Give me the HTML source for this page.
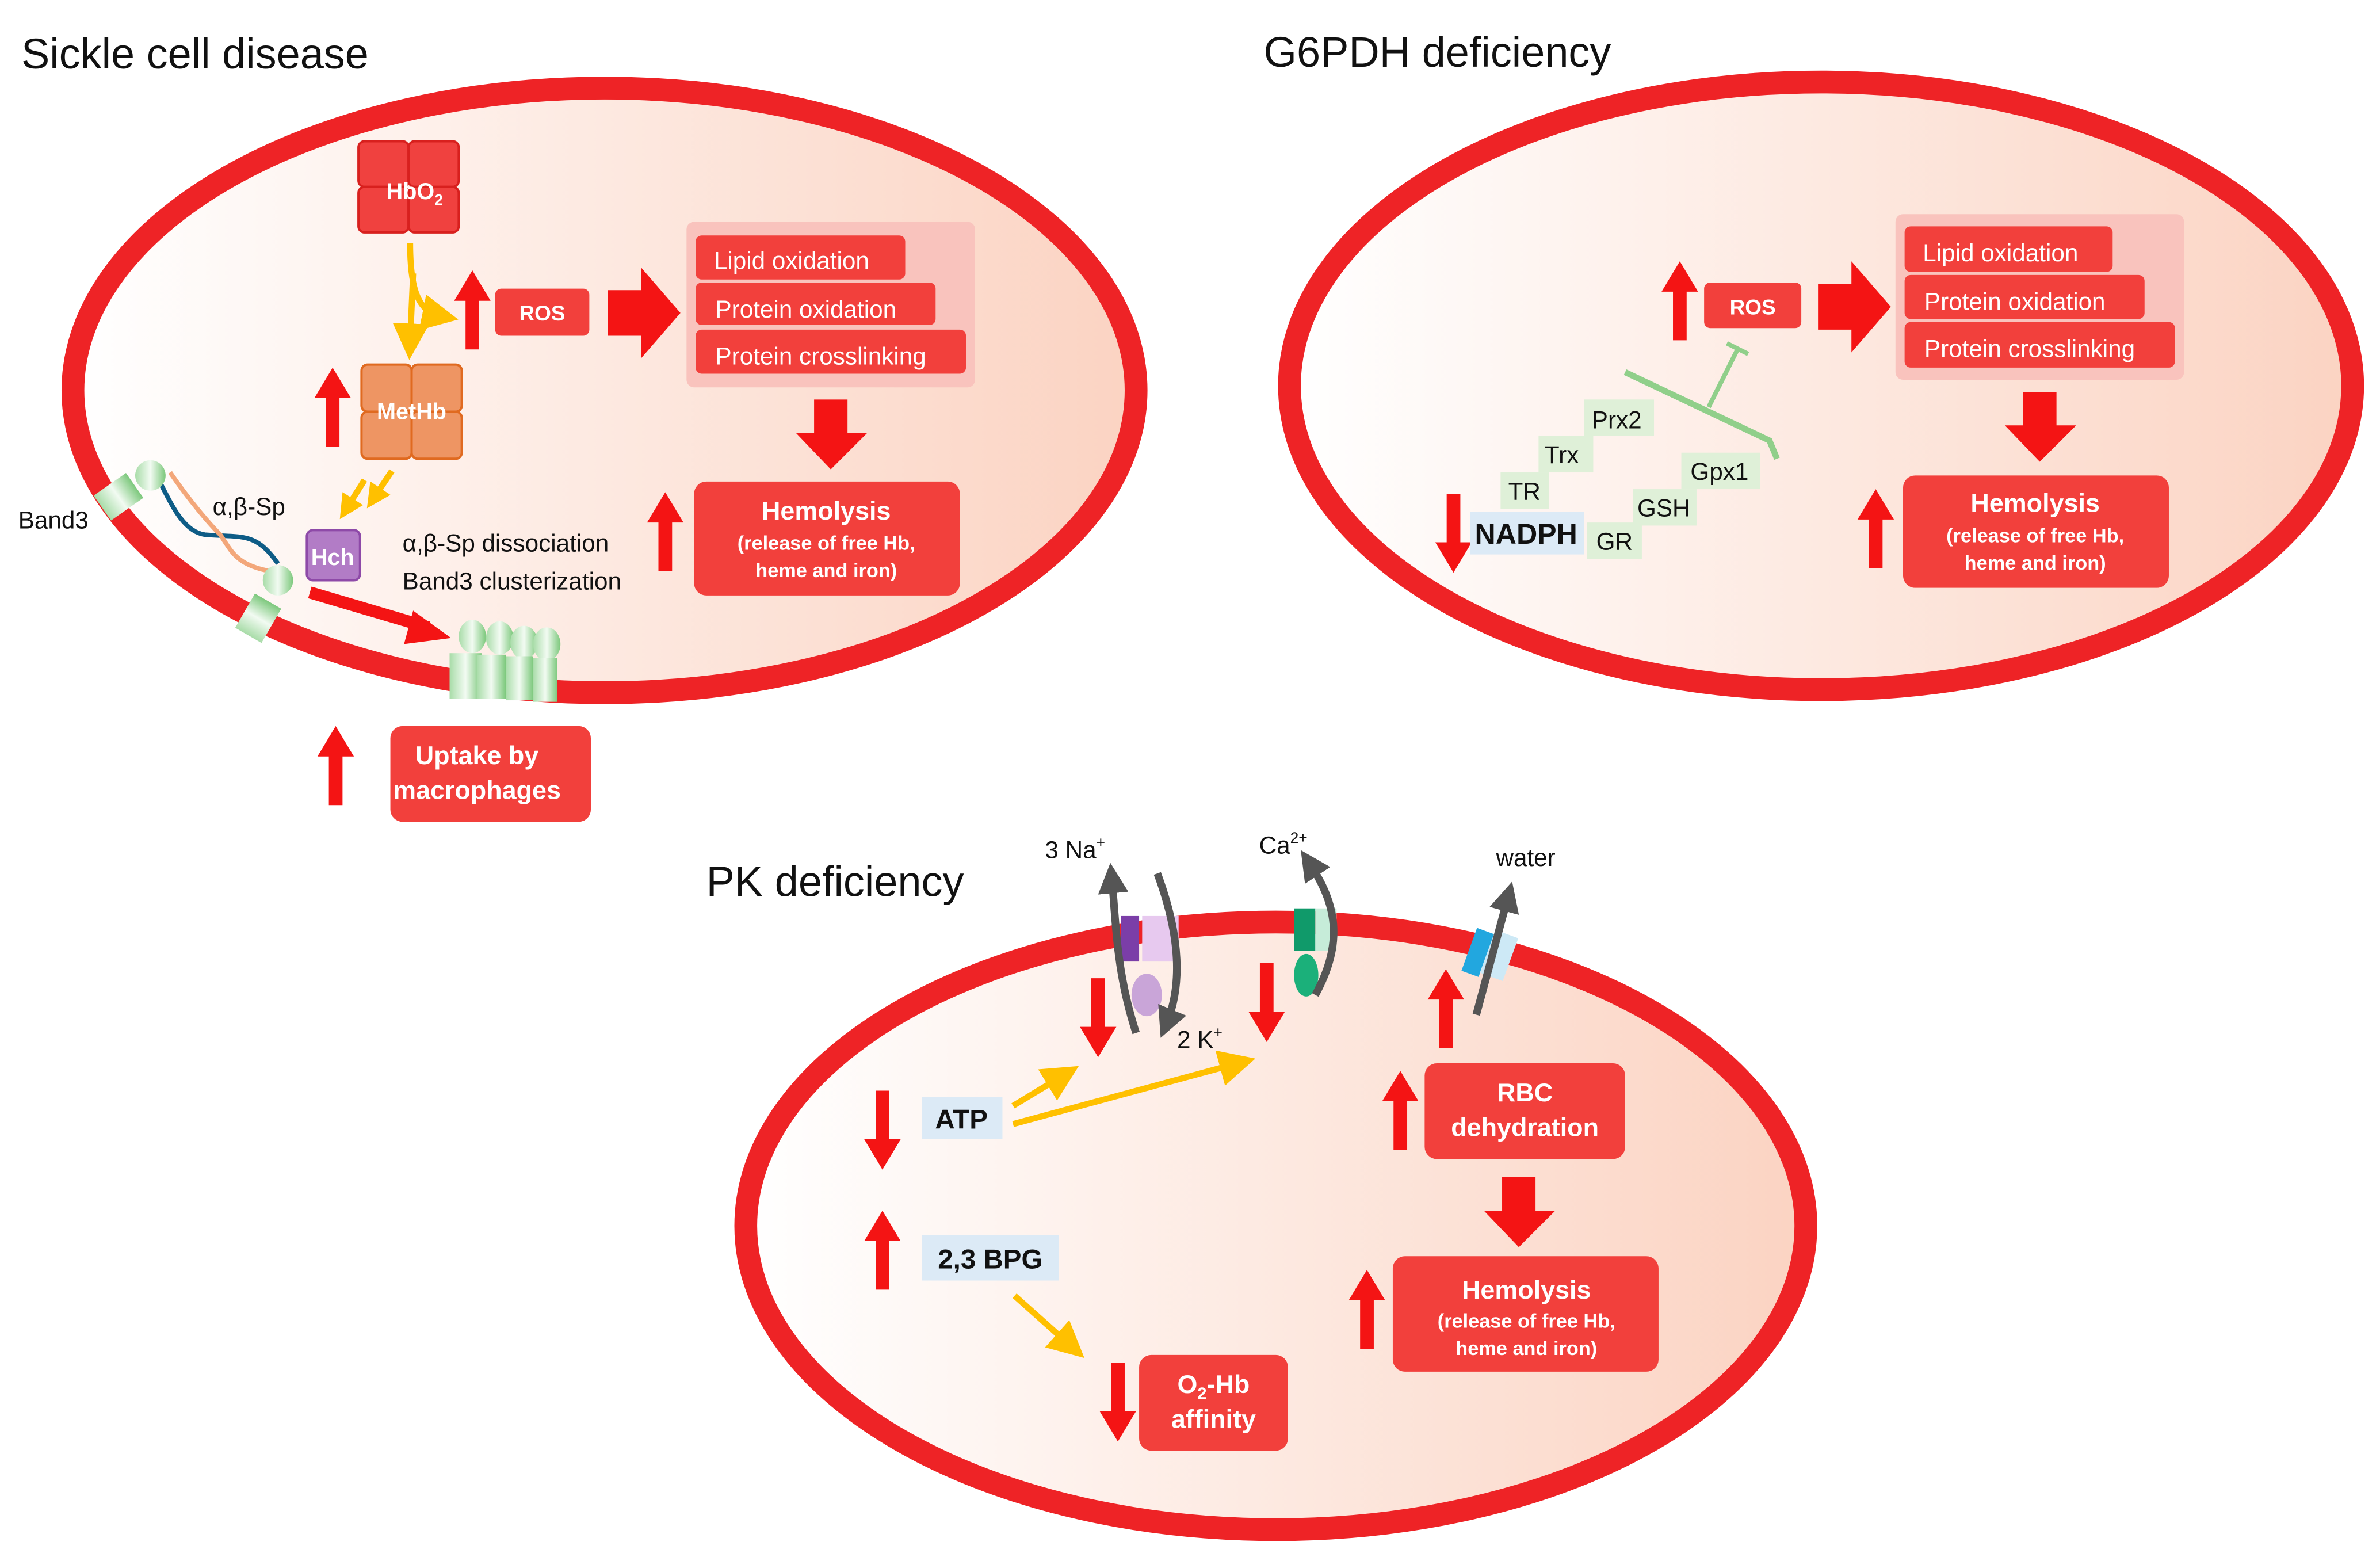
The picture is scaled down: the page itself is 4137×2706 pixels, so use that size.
<!DOCTYPE html>
<html><head><meta charset="utf-8"><style>html,body{margin:0;padding:0;background:#fff}svg{display:block}</style></head>
<body>
<svg width="4137" height="2706" viewBox="0 0 1567 1025" xmlns="http://www.w3.org/2000/svg" font-family="Liberation Sans, sans-serif">
<defs>
<linearGradient id="cell" x1="0" x2="1" y1="0" y2="0"><stop offset="0" stop-color="#ffffff"/><stop offset="1" stop-color="#fbd3c2"/></linearGradient>
<linearGradient id="grn" x1="0" x2="1"><stop offset="0" stop-color="#a8dca8"/><stop offset="0.5" stop-color="#f2fbf2"/><stop offset="1" stop-color="#7cc87c"/></linearGradient>
<path id="up" d="M0,0 L12,20 L4.5,20 L4.5,52 L-4.5,52 L-4.5,20 L-12,20 Z" fill="#f41414"/>
<path id="dn" d="M0,52 L12,32 L4.5,32 L4.5,0 L-4.5,0 L-4.5,32 L-12,32 Z" fill="#f41414"/>
<path id="bigR" d="M0,15 L22,15 L22,0 L48,30 L22,60 L22,45 L0,45 Z" fill="#f41414"/>
<path id="bigD" d="M12,0 L34,0 L34,22 L47,22 L23,46 L0,22 L12,22 Z" fill="#f41414"/>
<marker id="ya" markerWidth="6" markerHeight="6" refX="3" refY="3" orient="auto" markerUnits="strokeWidth"><path d="M0,0 L6,3 L0,6 Z" fill="#ffc000"/></marker>
<marker id="ys" markerWidth="4" markerHeight="4" refX="2" refY="2" orient="auto" markerUnits="strokeWidth"><path d="M0,0 L4,2 L0,4 Z" fill="#ffc000"/></marker>
<marker id="ga" markerWidth="4" markerHeight="4" refX="2" refY="2" orient="auto" markerUnits="strokeWidth"><path d="M0,0 L4,2 L0,4 Z" fill="#555"/></marker>
</defs>
<style>
.box{fill:#f2403c}
.bt{fill:#fff;font-weight:bold;text-anchor:middle}
.pt{fill:#fff;font-size:16px}
.k{font-size:16px;fill:#111}
.g{font-size:16px;fill:#111}
</style>

<!-- Sickle cell -->
<text x="14" y="45" font-size="28" fill="#111">Sickle cell disease</text>
<ellipse cx="398" cy="257" rx="350" ry="199" fill="url(#cell)" stroke="#ee2326" stroke-width="15"/>
<g fill="#f0413f" stroke="#d8201e" stroke-width="1.5">
<rect x="236" y="93" width="33" height="30" rx="4"/><rect x="269" y="93" width="33" height="30" rx="4"/>
<rect x="236" y="123" width="33" height="30" rx="4"/><rect x="269" y="123" width="33" height="30" rx="4"/></g>
<text x="273" y="131" class="bt" font-size="15">HbO<tspan font-size="10" dy="4">2</tspan></text>
<g fill="#ee9563" stroke="#e06a20" stroke-width="1.5">
<rect x="238" y="240" width="33" height="31" rx="4"/><rect x="271" y="240" width="33" height="31" rx="4"/>
<rect x="238" y="271" width="33" height="31" rx="4"/><rect x="271" y="271" width="33" height="31" rx="4"/></g>
<text x="271" y="276" class="bt" font-size="15">MetHb</text>
<path d="M270,160 C270,190 275,205 290,208" stroke="#ffc000" stroke-width="4" fill="none" marker-end="url(#ya)"/>
<path d="M272,180 L270,225" stroke="#ffc000" stroke-width="4" fill="none" marker-end="url(#ya)"/>
<path d="M258,310 L246,328" stroke="#ffc000" stroke-width="4" marker-end="url(#ys)"/>
<path d="M240,316 L228,335" stroke="#ffc000" stroke-width="4" marker-end="url(#ys)"/>
<use href="#up" x="311" y="178"/>
<use href="#up" x="219" y="242"/>
<rect x="326" y="190" width="62" height="31" rx="4" class="box"/>
<text x="357" y="211" class="bt" font-size="14">ROS</text>
<use href="#bigR" x="400" y="176"/>
<rect x="452" y="146" width="190" height="109" rx="5" fill="#f9c3bd"/>
<rect x="458" y="155" width="138" height="29" rx="4" class="box"/><text x="470" y="177" class="pt">Lipid oxidation</text>
<rect x="458" y="186" width="158" height="28" rx="4" class="box"/><text x="471" y="209" class="pt">Protein oxidation</text>
<rect x="458" y="217" width="178" height="29" rx="4" class="box"/><text x="471" y="240" class="pt">Protein crosslinking</text>
<use href="#bigD" x="524" y="263"/>
<rect x="457" y="317" width="175" height="75" rx="8" class="box"/>
<text x="544" y="342" class="bt" font-size="17">Hemolysis</text>
<text x="544" y="362" class="bt" font-size="13">(release of free Hb,</text>
<text x="544" y="380" class="bt" font-size="13">heme and iron)</text>
<use href="#up" x="438" y="324"/>
<rect x="202" y="349" width="35" height="33" rx="4" fill="#b27cc6" stroke="#8e4aa8" stroke-width="1.5"/>
<text x="219" y="372" class="bt" font-size="15">Hch</text>
<text x="265" y="363" class="k">α,β-Sp dissociation</text>
<text x="265" y="388" class="k">Band3 clusterization</text>
<text x="140" y="339" class="k">α,β-Sp</text>
<text x="12" y="348" class="k">Band3</text>
<path d="M104,315 C112,330 120,350 135,352 C160,354 168,350 183,371" stroke="#0e5c86" stroke-width="3" fill="none"/>
<path d="M112,311 C125,330 138,345 145,352 C152,362 155,372 178,376" stroke="#f3a77a" stroke-width="3" fill="none"/>
<g fill="url(#grn)">
<rect x="65" y="317" width="26" height="20" transform="rotate(-35 78 327)"/><circle cx="99" cy="313" r="10"/>
<rect x="157" y="397" width="26" height="20" transform="rotate(-60 170 407)"/><circle cx="183" cy="382" r="10"/>
<ellipse cx="311" cy="419" rx="9" ry="11"/><ellipse cx="329" cy="420" rx="9" ry="11"/><ellipse cx="345" cy="423" rx="9" ry="11"/><ellipse cx="360" cy="424" rx="9" ry="11"/>
<rect x="296" y="430" width="21" height="30"/><rect x="314" y="431" width="19" height="29"/><rect x="333" y="432" width="18" height="29"/><rect x="351" y="433" width="16" height="29"/>
</g>
<path d="M204,390 L282,413" stroke="#f41414" stroke-width="8"/>
<path d="M272,402 L297,420 L266,424 Z" fill="#f41414"/>
<use href="#up" x="221" y="478"/>
<rect x="257" y="478" width="132" height="63" rx="8" class="box"/>
<text x="314" y="503" class="bt" font-size="17">Uptake by</text>
<text x="314" y="526" class="bt" font-size="17">macrophages</text>

<!-- G6PDH -->
<text x="832" y="44" font-size="28" fill="#111">G6PDH deficiency</text>
<ellipse cx="1199" cy="254" rx="350" ry="200" fill="url(#cell)" stroke="#ee2326" stroke-width="15"/>
<use href="#up" x="1106" y="172"/>
<rect x="1122" y="186" width="64" height="30" rx="4" class="box"/>
<text x="1154" y="207" class="bt" font-size="14">ROS</text>
<use href="#bigR" x="1197" y="172"/>
<rect x="1248" y="141" width="190" height="109" rx="5" fill="#f9c3bd"/>
<rect x="1254" y="149" width="137" height="30" rx="4" class="box"/><text x="1266" y="172" class="pt">Lipid oxidation</text>
<rect x="1254" y="181" width="158" height="29" rx="4" class="box"/><text x="1267" y="204" class="pt">Protein oxidation</text>
<rect x="1254" y="212" width="178" height="30" rx="4" class="box"/><text x="1267" y="235" class="pt">Protein crosslinking</text>
<use href="#bigD" x="1320" y="258"/>
<rect x="1253" y="313" width="175" height="74" rx="8" class="box"/>
<text x="1340" y="337" class="bt" font-size="17">Hemolysis</text>
<text x="1340" y="357" class="bt" font-size="13">(release of free Hb,</text>
<text x="1340" y="375" class="bt" font-size="13">heme and iron)</text>
<use href="#up" x="1235" y="322"/>
<use href="#dn" x="957" y="325"/>
<path d="M1070,245 L1165,290 L1170,302" stroke="#90cf8a" stroke-width="4" fill="none"/>
<path d="M1125,268 L1144,230 M1137,226 L1151,233" stroke="#90cf8a" stroke-width="3" fill="none"/>
<g fill="#dff0d8"><rect x="1043" y="263" width="46" height="24"/><rect x="1013" y="287" width="36" height="24"/><rect x="988" y="311" width="32" height="24"/><rect x="1107" y="298" width="52" height="24"/><rect x="1075" y="322" width="42" height="24"/><rect x="1045" y="344" width="36" height="24"/></g>
<rect x="968" y="337" width="75" height="28" fill="#dceaf6"/>
<text x="1048" y="282" class="g">Prx2</text>
<text x="1017" y="305" class="g">Trx</text>
<text x="993" y="329" class="g">TR</text>
<text x="1113" y="316" class="g">Gpx1</text>
<text x="1078" y="340" class="g">GSH</text>
<text x="1051" y="362" class="g">GR</text>
<text x="971" y="358" font-size="19" font-weight="bold" fill="#111">NADPH</text>

<!-- PK -->
<text x="465" y="590" font-size="28" fill="#111">PK deficiency</text>
<ellipse cx="840" cy="807" rx="349" ry="200" fill="url(#cell)" stroke="#ee2326" stroke-width="15"/>
<rect x="738" y="603" width="12" height="30" fill="#7b3ea8"/><rect x="752" y="603" width="24" height="30" fill="#e7c9ef"/>
<ellipse cx="755" cy="655" rx="10" ry="14" fill="#c9a5d8"/>
<path d="M748,680 C735,640 735,610 732,578" stroke="#555" stroke-width="5" fill="none" marker-end="url(#ga)"/>
<path d="M762,575 C775,610 780,645 768,674" stroke="#555" stroke-width="5" fill="none" marker-end="url(#ga)"/>
<rect x="852" y="598" width="14" height="28" fill="#109a6a"/><rect x="866" y="598" width="14" height="28" fill="#c6ecd9"/>
<ellipse cx="860" cy="642" rx="8" ry="14" fill="#1bb07a"/>
<path d="M866,655 C885,620 880,595 862,568" stroke="#555" stroke-width="5" fill="none" marker-end="url(#ga)"/>
<rect x="967" y="612" width="12" height="30" fill="#22a7df" transform="rotate(20 973 627)"/><rect x="979" y="614" width="16" height="30" fill="#cde9f6" transform="rotate(20 987 629)"/>
<path d="M972,668 L993,590" stroke="#555" stroke-width="5" fill="none" marker-end="url(#ga)"/>
<text x="688" y="565" class="k">3 Na<tspan font-size="10" dy="-7">+</tspan></text>
<text x="775" y="690" class="k">2 K<tspan font-size="10" dy="-7">+</tspan></text>
<text x="829" y="562" class="k">Ca<tspan font-size="10" dy="-7">2+</tspan></text>
<text x="985" y="570" class="k" font-size="17">water</text>
<use href="#dn" x="723" y="644"/>
<use href="#dn" x="834" y="634"/>
<use href="#up" x="952" y="638"/>
<use href="#dn" x="581" y="718"/>
<use href="#up" x="581" y="797"/>
<use href="#up" x="922" y="705"/>
<use href="#up" x="900" y="836"/>
<use href="#dn" x="736" y="897"/>
<rect x="607" y="722" width="53" height="28" fill="#dceaf6"/>
<text x="633" y="743" font-size="18" font-weight="bold" fill="#111" text-anchor="middle">ATP</text>
<rect x="607" y="813" width="90" height="30" fill="#dceaf6"/>
<text x="652" y="835" font-size="18" font-weight="bold" fill="#111" text-anchor="middle">2,3 BPG</text>
<path d="M667,728 L700,708" stroke="#ffc000" stroke-width="4" marker-end="url(#ya)"/>
<path d="M667,740 L815,700" stroke="#ffc000" stroke-width="4" marker-end="url(#ya)"/>
<path d="M668,853 L705,886" stroke="#ffc000" stroke-width="4" marker-end="url(#ya)"/>
<rect x="938" y="700" width="132" height="63" rx="8" class="box"/>
<text x="1004" y="725" class="bt" font-size="17">RBC</text>
<text x="1004" y="748" class="bt" font-size="17">dehydration</text>
<use href="#bigD" x="977" y="775"/>
<rect x="917" y="827" width="175" height="76" rx="8" class="box"/>
<text x="1005" y="855" class="bt" font-size="17">Hemolysis</text>
<text x="1005" y="874" class="bt" font-size="13">(release of free Hb,</text>
<text x="1005" y="892" class="bt" font-size="13">heme and iron)</text>
<rect x="750" y="892" width="98" height="63" rx="8" class="box"/>
<text x="799" y="917" class="bt" font-size="17">O<tspan font-size="11" dy="4">2</tspan><tspan dy="-4">-Hb</tspan></text>
<text x="799" y="940" class="bt" font-size="17">affinity</text>
</svg>
</body></html>
